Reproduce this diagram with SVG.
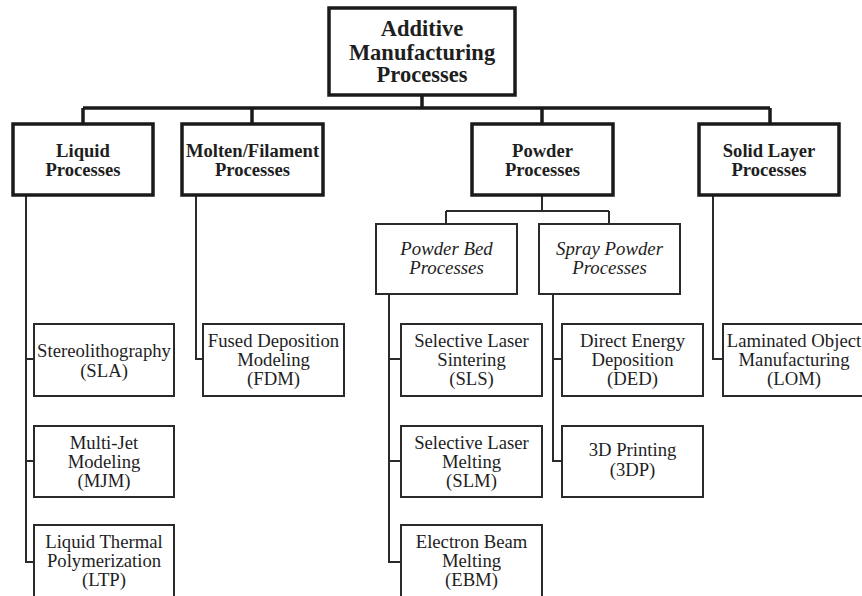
<svg xmlns="http://www.w3.org/2000/svg" width="862" height="596" viewBox="0 0 862 596">
<style>
.b1{fill:#fff;stroke:#1a1a1a;stroke-width:3.5}
.b2{fill:#fff;stroke:#2a2a2a;stroke-width:2}
.c1{fill:none;stroke:#1a1a1a;stroke-width:3.5}
.c2{fill:none;stroke:#2a2a2a;stroke-width:2}
text{font-family:"Liberation Serif","Times New Roman",serif;fill:#1e1e1e;text-anchor:middle}
.t0{font-size:22.5px;font-weight:bold}
.t1{font-size:18.6px;font-weight:bold}
.t2{font-size:18.8px;font-style:italic}
.t3{font-size:18.7px}
</style>
<g id="connectors">
<path class="c1" d="M422 95V108M83 108H770M83 108V124M252 108V124M542 108V124M770 108V124"/>
<path class="c2" d="M542 195V211M446 211H609M446 211V224M609 211V224"/>
<path class="c2" d="M26 195V562H34M26 359H34M26 461H34"/>
<path class="c2" d="M196 195V359H203"/>
<path class="c2" d="M389 294V562H401M389 359H401M389 461H401"/>
<path class="c2" d="M553 294V461H562M553 359H562"/>
<path class="c2" d="M713 195V359H723"/>
</g>
<g id="n-root"><rect class="b1" x="329" y="8" width="186" height="87"/>
<text class="t0" x="422" y="36">Additive</text><text class="t0" x="422" y="59.5">Manufacturing</text><text class="t0" x="422" y="82">Processes</text></g>
<g id="n-liquid"><rect class="b1" x="13" y="124" width="140" height="71"/>
<text class="t1" x="83" y="157">Liquid</text><text class="t1" x="83" y="176">Processes</text></g>
<g id="n-molten"><rect class="b1" x="182" y="124" width="141" height="71"/>
<text class="t1" x="252.5" y="157">Molten/Filament</text><text class="t1" x="252.5" y="176">Processes</text></g>
<g id="n-powder"><rect class="b1" x="472" y="124" width="141" height="71"/>
<text class="t1" x="542.5" y="157">Powder</text><text class="t1" x="542.5" y="176">Processes</text></g>
<g id="n-solid"><rect class="b1" x="699" y="124" width="140" height="71"/>
<text class="t1" x="769" y="157">Solid Layer</text><text class="t1" x="769" y="176">Processes</text></g>
<g id="n-powderbed"><rect class="b2" x="376" y="224" width="141" height="70"/>
<text class="t2" x="446.5" y="255">Powder Bed</text><text class="t2" x="446.5" y="274">Processes</text></g>
<g id="n-spray"><rect class="b2" x="539" y="224" width="141" height="70"/>
<text class="t2" x="609.5" y="255">Spray Powder</text><text class="t2" x="609.5" y="274">Processes</text></g>
<g id="n-sla"><rect class="b2" x="34" y="324" width="140" height="72"/>
<text class="t3" x="104" y="357">Stereolithography</text><text class="t3" x="104" y="377">(SLA)</text></g>
<g id="n-mjm"><rect class="b2" x="34" y="426" width="140" height="71"/>
<text class="t3" x="104" y="449">Multi-Jet</text><text class="t3" x="104" y="468">Modeling</text><text class="t3" x="104" y="487">(MJM)</text></g>
<g id="n-ltp"><rect class="b2" x="34" y="525" width="140" height="73"/>
<text class="t3" x="104" y="548">Liquid Thermal</text><text class="t3" x="104" y="567">Polymerization</text><text class="t3" x="104" y="586">(LTP)</text></g>
<g id="n-fdm"><rect class="b2" x="203" y="324" width="141" height="72"/>
<text class="t3" x="273.5" y="347">Fused Deposition</text><text class="t3" x="273.5" y="366">Modeling</text><text class="t3" x="273.5" y="385">(FDM)</text></g>
<g id="n-sls"><rect class="b2" x="401" y="324" width="141" height="72"/>
<text class="t3" x="471.5" y="347">Selective Laser</text><text class="t3" x="471.5" y="366">Sintering</text><text class="t3" x="471.5" y="385">(SLS)</text></g>
<g id="n-slm"><rect class="b2" x="401" y="426" width="141" height="71"/>
<text class="t3" x="471.5" y="449">Selective Laser</text><text class="t3" x="471.5" y="468">Melting</text><text class="t3" x="471.5" y="487">(SLM)</text></g>
<g id="n-ebm"><rect class="b2" x="401" y="525" width="141" height="73"/>
<text class="t3" x="471.5" y="548">Electron Beam</text><text class="t3" x="471.5" y="567">Melting</text><text class="t3" x="471.5" y="586">(EBM)</text></g>
<g id="n-ded"><rect class="b2" x="562" y="324" width="141" height="72"/>
<text class="t3" x="632.5" y="347">Direct Energy</text><text class="t3" x="632.5" y="366">Deposition</text><text class="t3" x="632.5" y="385">(DED)</text></g>
<g id="n-3dp"><rect class="b2" x="562" y="426" width="141" height="71"/>
<text class="t3" x="632.5" y="456">3D Printing</text><text class="t3" x="632.5" y="476">(3DP)</text></g>
<g id="n-lom"><rect class="b2" x="723" y="324" width="142" height="72"/>
<text class="t3" x="794" y="347">Laminated Object</text><text class="t3" x="794" y="366">Manufacturing</text><text class="t3" x="794" y="385">(LOM)</text></g>
</svg>
